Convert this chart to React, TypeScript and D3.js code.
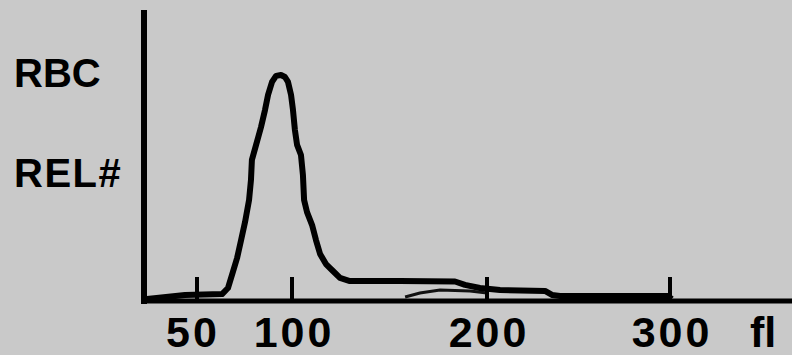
import React from "react";
import * as d3 from "d3";

// Cell volume (fl) and relative number (% of peak) of the RBC histogram trace
const volumeFl = [23.7, 43.7, 63.2, 66.3, 68.9, 71.1, 73.2, 75.3, 77.4, 78.4, 78.9, 81.1, 83.7, 85.8, 87.4, 89.5, 91.6, 94.2, 96.3, 97.9, 99.5, 100.5, 101.5, 102.6, 104.6, 105.6, 106.2, 107.7, 110.3, 112.3, 114.4, 117.4, 121, 124.6, 129.7, 155.4, 183.6, 188.7, 196.4, 207.1, 231.7, 235.5, 239.9, 299, 301];
const relNumber = [0, 1.8, 2.2, 4.9, 12.1, 18.3, 26.3, 34.4, 44.2, 53.1, 62.1, 68.8, 76.8, 84.4, 91.1, 96.9, 99.6, 100, 99.1, 96.9, 91.1, 84.4, 75.4, 68.8, 64.3, 55.4, 44.2, 38.8, 33.0, 26.3, 20.1, 15.6, 12.5, 9.4, 8.0, 8.0, 7.8, 6.3, 4.9, 4.0, 3.6, 1.8, 1.3, 1.3, 0];

// faint secondary trace
const volumeFl2 = [158, 165.6, 175.9, 191.3, 200];
const relNumber2 = [0.9, 2.7, 4.0, 3.6, 2.7];

const tickValues = [50, 100, 200, 300];
const tickLabels = ["50", "100", "200", "300"];
const unitLabel = "fl";
const yLabels = ["RBC", "REL#"];

export default function App() {
  const W = 792;
  const H = 355;
  const x = d3.scaleLinear().domain([50, 100, 200, 300]).range([197, 292, 487, 670]);
  const y = d3.scaleLinear().domain([0, 100]).range([299, 75]);

  const data = volumeFl.map((v, i) => [v, relNumber[i]] as [number, number]);
  const data2 = volumeFl2.map((v, i) => [v, relNumber2[i]] as [number, number]);
  const line = d3
    .line<[number, number]>()
    .x((d) => x(d[0]))
    .y((d) => y(d[1]));

  const font = "'Liberation Sans', Arial, Helvetica, sans-serif";
  const axisX = 144;
  const axisY = 301;

  return (
    <svg
      width={W}
      height={H}
      style={{ position: "absolute", left: 0, top: 0, display: "block" }}
    >
      <rect x={0} y={0} width={W} height={H} fill="#c9c9c9" />
      {/* faint secondary trace */}
      <path d={line(data2) || ""} fill="none" stroke="#111" strokeWidth={3} />
      {/* main trace */}
      <path
        d={line(data) || ""}
        fill="none"
        stroke="#000"
        strokeWidth={6}
        strokeLinejoin="round"
      />
      {/* tick marks */}
      {tickValues.map((t) => (
        <line key={t} x1={x(t)} x2={x(t)} y1={277} y2={axisY} stroke="#000" strokeWidth={4} />
      ))}
      {/* axes */}
      <line x1={axisX} x2={axisX} y1={10} y2={axisY + 3} stroke="#000" strokeWidth={6} />
      <line x1={axisX - 3} x2={W} y1={axisY} y2={axisY} stroke="#000" strokeWidth={5} />
      {/* tick labels */}
      {tickValues.map((t, i) => (
        <text
          key={t}
          x={x(t) + (i === 0 ? -4 : 2)}
          y={347}
          textAnchor="middle"
          fontFamily={font}
          fontWeight="bold"
          fontSize={43}
          letterSpacing={3}
          fill="#000"
        >
          {tickLabels[i]}
        </text>
      ))}
      <text x={750} y={347} fontFamily={font} fontWeight="bold" fontSize={43} fill="#000">
        {unitLabel}
      </text>
      {/* y labels */}
      <text x={14} y={87} fontFamily={font} fontWeight="bold" fontSize={40} fill="#000">
        {yLabels[0]}
      </text>
      <text x={14} y={187} fontFamily={font} fontWeight="bold" fontSize={40} letterSpacing={1.5} fill="#000">
        {yLabels[1]}
      </text>
    </svg>
  );
}
